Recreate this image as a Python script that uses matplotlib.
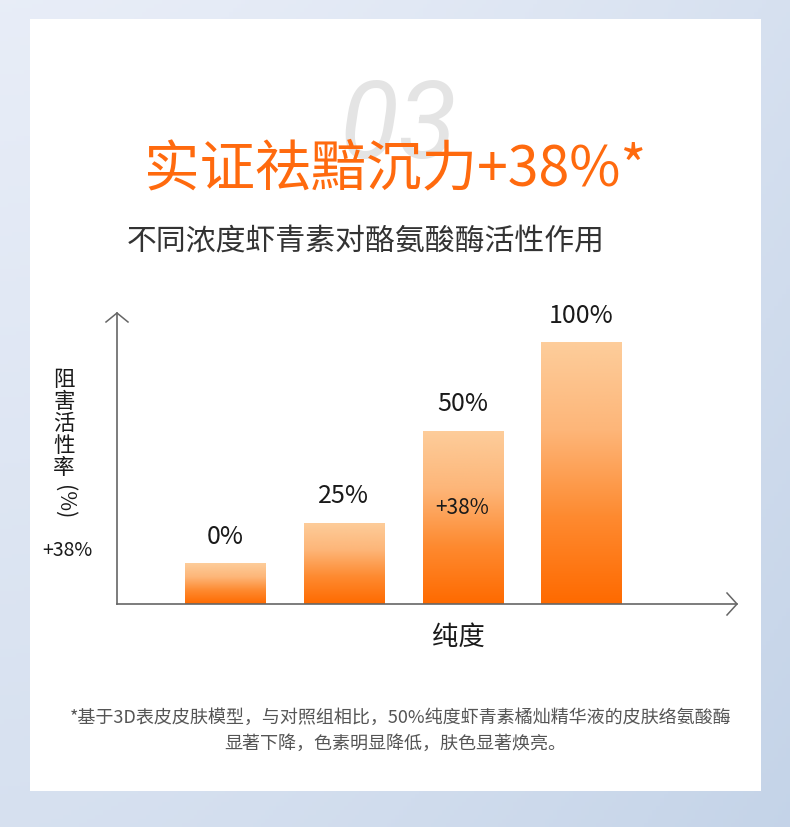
import numpy as np
import matplotlib
matplotlib.use('Agg')
import matplotlib.pyplot as plt
from matplotlib.colors import LinearSegmentedColormap
from matplotlib.patches import Rectangle
from matplotlib.lines import Line2D

plt.rcParams['font.family'] = ['Noto Sans CJK SC', 'DejaVu Sans']

# ---------------- data ----------------
purity_labels = ['0%', '25%', '50%', '100%']
inhibition = [14, 28, 59.5, 90]
title_text = '实证祛黯沉力+38%*'
subtitle_text = '不同浓度虾青素对酪氨酸酶活性作用'
y_label_chars = ['阻', '害', '活', '性', '率']
y_label_unit = '(%)'
x_label = '纯度'
side_note = '+38%'
bar_note = '+38%'
bar_note_value = 33
footnote_lines = ['*基于3D表皮皮肤模型，与对照组相比，50%纯度虾青素橘灿精华液的皮肤络氨酸酶',
                  '显著下降，色素明显降低，肤色显著焕亮。']
section_no = '03'

W, H = 790, 827
fig = plt.figure(figsize=(W / 100, H / 100), dpi=100)

def fx(px):
    return px / W

def fy(py):
    return 1 - py / H

# ---------------- background ----------------
bg = fig.add_axes([0, 0, 1, 1], zorder=-10)
bg.set_axis_off()
bg.set_xlim(0, W)
bg.set_ylim(H, 0)
yy, xx = np.mgrid[0:1:200j, 0:1:200j]
top = np.array([0.91, 0.93, 0.97])
bot = np.array([0.77, 0.83, 0.91])
t = np.clip(0.5 * yy + 0.5 * xx ** 1.5, 0, 1)[..., None]
img = top * (1 - t) + bot * t
bg.imshow(img, extent=[0, W, H, 0], aspect='auto', zorder=0)
bg.add_patch(Rectangle((30, 19), 731, 772, facecolor='white', edgecolor='none', zorder=1))

# big faint section number
fig.text(fx(398), fy(158), section_no, fontsize=78, family='Roboto', fontweight='normal',
         style='italic', color='#e4e4e4', ha='center', va='baseline', zorder=2)

# title & subtitle
fig.text(fx(395), fy(170), title_text, fontsize=40, color='#ff6a0e', ha='center', va='center',
         family=['Noto Sans CJK SC', 'DejaVu Sans'], fontweight='medium')
fig.text(fx(366), fy(242), subtitle_text, fontsize=21.5, color='#333333', ha='center', va='center')

# ---------------- chart ----------------
ax_left, ax_bottom, ax_right, ax_top = 117, 604, 737, 313
ax = fig.add_axes([fx(ax_left), fy(ax_bottom), fx(ax_right - ax_left), (ax_bottom - ax_top) / H])
ax.patch.set_alpha(0)
for s in ['top', 'right']:
    ax.spines[s].set_visible(False)
for s in ['left', 'bottom']:
    ax.spines[s].set_color('#666666')
    ax.spines[s].set_linewidth(1.2)
ax.set_xticks([])
ax.set_yticks([])

xpos = np.arange(len(purity_labels))
bar_w = 0.674
bars = ax.bar(xpos, inhibition, width=bar_w, color='none', edgecolor='none')
cmap = LinearSegmentedColormap.from_list('og', ['#ff6a00', '#fe8a30', '#fdb679', '#fdcd9b'])
grad = np.linspace(0, 1, 256).reshape(-1, 1)
for b in bars:
    x0, w, h = b.get_x(), b.get_width(), b.get_height()
    im = ax.imshow(grad, cmap=cmap, origin='lower', extent=[x0, x0 + w, 0, h],
                   aspect='auto', zorder=2)
    im.set_clip_path(b)

for x, v, lab in zip(xpos, inhibition, purity_labels):
    ax.annotate(lab, (x, v), xytext=(0, 14), textcoords='offset points', ha='center',
                va='baseline', fontsize=18, color='#1a1a1a')

ax.text(xpos[2], bar_note_value, bar_note, ha='center', va='center', fontsize=15, color='#1a1a1a', zorder=3)

ax.set_xlim(-0.91, 4.31)
ax.set_ylim(0, 100)

# arrow heads
ac = '#666666'
bg.add_line(Line2D([ax_left - 11, ax_left, ax_left + 11], [ax_top + 9, ax_top, ax_top + 9],
                   color=ac, lw=1.1, zorder=5))
bg.add_line(Line2D([ax_right - 10, ax_right, ax_right - 10], [ax_bottom - 11, ax_bottom, ax_bottom + 11],
                   color=ac, lw=1.1, zorder=5))

# axis labels
for i, ch in enumerate(y_label_chars):
    fig.text(fx(64), fy(380 + i * 22), ch, fontsize=15.5, color='#1a1a1a', ha='center', va='center')
fig.text(fx(64), fy(502), y_label_unit, fontsize=15.5, color='#1a1a1a', ha='center', va='center',
         rotation=-90)
fig.text(fx(67), fy(550), side_note, fontsize=14, color='#1a1a1a', ha='center', va='center')
fig.text(fx(458), fy(637), x_label, fontsize=19, color='#1a1a1a', ha='center', va='center')

# footnote
fig.text(fx(401), fy(718), footnote_lines[0], fontsize=13, color='#555555', ha='center', va='center')
fig.text(fx(395), fy(744), footnote_lines[1], fontsize=13, color='#555555', ha='center', va='center')

fig.savefig('out.png', dpi=100)
